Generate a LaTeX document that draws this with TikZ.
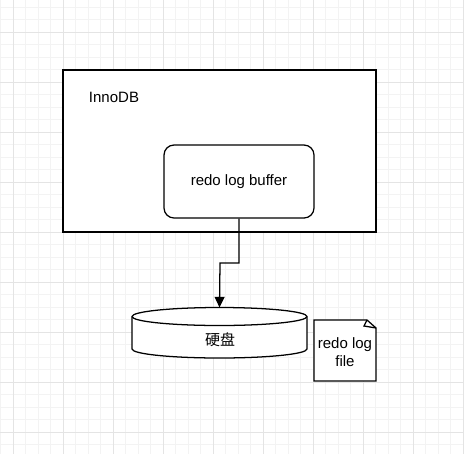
\documentclass[tikz,border=0pt]{standalone}
\usepackage{fontspec}
\setmainfont{Liberation Sans}
\newfontfamily\cjk{Noto Sans CJK SC}
\usetikzlibrary{arrows.meta}
\begin{document}
\begin{tikzpicture}[x=0.75pt,y=-0.75pt,
  shape line/.style={draw=black,line width=0.95pt},
  lbl/.style={font=\fontsize{11.25pt}{13.5pt}\selectfont,align=center,inner sep=0pt},
  minorgrid/.style={draw={rgb,255:red,243;green,243;blue,243},line width=0.75pt},
  majorgrid/.style={draw={rgb,255:red,228;green,228;blue,228},line width=0.75pt},
  conn/.style={draw=black,line width=0.95pt,-{Stealth[length=8pt,width=7.5pt,inset=0pt]}}]
\useasboundingbox (0,0) rectangle (464,454);
\fill[white] (0,0) rectangle (464,454);
% grid
\foreach \i in {0,...,37} {
  \pgfmathsetmacro{\xx}{0.5+12.5*\i}
  \draw[minorgrid] (\xx,0) -- (\xx,454);
}
\foreach \i in {0,...,36} {
  \pgfmathsetmacro{\yy}{7+12.5*\i}
  \draw[minorgrid] (0,\yy) -- (464,\yy);
}
\foreach \i in {0,...,9} {
  \pgfmathsetmacro{\xx}{13+50*\i}
  \draw[majorgrid] (\xx,0) -- (\xx,454);
}
\foreach \i in {0,...,8} {
  \pgfmathsetmacro{\yy}{32+50*\i}
  \draw[majorgrid] (0,\yy) -- (464,\yy);
}
% InnoDB box
\draw[shape line,fill=white] (63,70) rectangle (376,232);
\node[lbl] (innodb) at (114,97) {InnoDB};
% redo log buffer
\node[shape line,fill=white,rounded corners=7.5pt,minimum width=112.5pt,minimum height=54.75pt,lbl] (buffer) at (239,181.5) {redo log buffer};
% disk cylinder
\draw[shape line,fill=white] (132,316.5) -- (132,349) arc[start angle=180,end angle=0,x radius=87.5,y radius=9] -- (307,316.5) arc[start angle=0,end angle=-180,x radius=87.5,y radius=9] -- cycle;
\draw[shape line] (132,316.5) arc[start angle=180,end angle=0,x radius=87.5,y radius=9];
\node[inner sep=0pt,minimum width=131.25pt,minimum height=37.5pt] (disk) at (219.5,332.75) {};
\node[lbl] (disklabel) at (220,340) {\cjk 硬盘};
% arrow
\coordinate (bend2) at (220,263);
\draw[conn] (buffer.south) |- (bend2) -- (disk.north);
% note
\draw[shape line,fill=white] (314,320) -- (367,320) -- (376,328) -- (376,381) -- (314,381) -- cycle;
\draw[shape line,line join=miter] (367,320) -- (364,326) -- (376,328);
\node[lbl] (note) at (345,352) {redo log\\file};
\end{tikzpicture}
\end{document}
